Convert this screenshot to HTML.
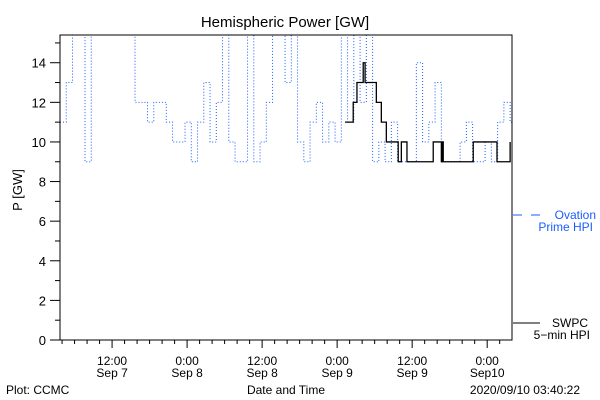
<!DOCTYPE html>
<html><head><meta charset="utf-8"><style>
html,body{margin:0;padding:0;background:#fff;}
svg{display:block;font-family:"Liberation Sans",sans-serif;}
</style></head><body>
<svg id="chart" width="600" height="400">
<text x="285" y="27" font-size="15" text-anchor="middle">Hemispheric Power [GW]</text>
<g id="plot"></g>
<text x="22" y="190" font-size="13" text-anchor="middle" transform="rotate(-90 22 190)">P [GW]</text>
<text x="286" y="394" font-size="12" text-anchor="middle">Date and Time</text>
<text x="6" y="394" font-size="12">Plot: CCMC</text>
<text x="580" y="394" font-size="12" text-anchor="end">2020/09/10 03:40:22</text>
<g>
<line x1="513" y1="215" x2="522" y2="215" stroke="#1a5cff" stroke-width="1"/>
<line x1="531" y1="215" x2="540" y2="215" stroke="#1a5cff" stroke-width="1"/>
<text x="596" y="219" font-size="12" fill="#1a5cff" text-anchor="end">Ovation</text>
<text x="593" y="231" font-size="12" fill="#1a5cff" text-anchor="end">Prime HPI</text>
</g>
<g>
<line x1="513" y1="323" x2="540" y2="323" stroke="#000" stroke-width="1"/>
<text x="588" y="327" font-size="12" text-anchor="end">SWPC</text>
<text x="590" y="339" font-size="12" text-anchor="end">5−min HPI</text>
</g>
</svg>
<script>
const ovationValues=[11,13,16,16,9,16,16,16,16,16,16,16,12,12,11,12,12,11,10,10,11,9,11,13,10,12,16,10,9,9,16,9,10,12,16,16,13,16,10,9,11,12,10,11,10,16,11,16,12,16,9,10,9,11,9,9,9,14,10,11,13,9,9,9,10,11,9,9,10,9,11,12,11];
const swpcHours=[45.6,46.9,47.5,48.5,48.8,50.6,51.4,52.2,54.1,54.6,55.5,59.7,61.0,61.1,61.3,66.1,69.9,72];
const swpcValues=[11,12,13,14,13,12,11,10,9,10,9,10,9,10,9,10,9,10];
const yTicks=[0,2,4,6,8,10,12,14];
const xTickHours=[8.33,20.33,32.33,44.33,56.33,68.33];
const xTickLabels=[["12:00","Sep 7"],["0:00","Sep 8"],["12:00","Sep 8"],["0:00","Sep 9"],["12:00","Sep 9"],["0:00","Sep10"]];
const X0=60,X1=512,Y0=340,Y1=35,HMAX=72.3,VMAX=15.4;
const xs=h=>X0+(X1-X0)*h/HMAX;
const ys=v=>Y0-(Y0-Y1)*Math.min(v,VMAX+1)/VMAX;
const NS="http://www.w3.org/2000/svg";
const plot=document.getElementById('plot');
function mk(t,a){const e=document.createElementNS(NS,t);for(const k in a)e.setAttribute(k,a[k]);return e;}
const defs=mk('defs',{});const cp=mk('clipPath',{id:'clip'});cp.appendChild(mk('rect',{x:X0,y:Y1,width:X1-X0,height:Y0-Y1}));defs.appendChild(cp);plot.appendChild(defs);
// ovation stepped dotted
let d='';ovationValues.forEach((v,i)=>{const x=xs(i),x2=xs(Math.min(i+1,HMAX));d+=(i===0?'M':'L')+x+','+ys(v)+'L'+x2+','+ys(v);});
const ov=mk('path',{d:d,fill:'none',stroke:'#1a5cff','stroke-width':1,'stroke-dasharray':'1 2','clip-path':'url(#clip)'});


plot.appendChild(ov);
let d2='';swpcHours.forEach((h,i)=>{const x=xs(h),y=ys(swpcValues[i]);if(i===0)d2='M'+x+','+y;else d2+='L'+x+','+ys(swpcValues[i-1])+'L'+x+','+y;});
const sw=mk('path',{d:d2,fill:'none',stroke:'#000','stroke-width':1.3,'clip-path':'url(#clip)'});


plot.appendChild(sw);
const frame=mk('rect',{x:X0,y:Y1,width:X1-X0,height:Y0-Y1,fill:'none',stroke:'#000','stroke-width':1});


plot.appendChild(frame);
for(let v=0;v<=15;v++){const y=ys(v);plot.appendChild(mk('line',{x1:v%2?55:50,x2:X0,y1:y,y2:y,stroke:'#000'}));}
yTicks.forEach(v=>{const t=mk('text',{x:46,y:ys(v)+5,'font-size':13,'text-anchor':'end'});t.textContent=v;


plot.appendChild(t);});
for(let h=0.33;h<=HMAX;h+=2){const x=xs(h);const maj=xTickHours.some(m=>Math.abs(m-h)<0.1);plot.appendChild(mk('line',{x1:x,x2:x,y1:Y0,y2:Y0+(maj?8:4),stroke:'#000'}));}
xTickHours.forEach((h,i)=>{[0,1].forEach(j=>{const t=mk('text',{x:xs(h),y:365+j*12,'font-size':12,'text-anchor':'middle'});t.textContent=xTickLabels[i][j];


plot.appendChild(t);});});
</script>
</body></html>
